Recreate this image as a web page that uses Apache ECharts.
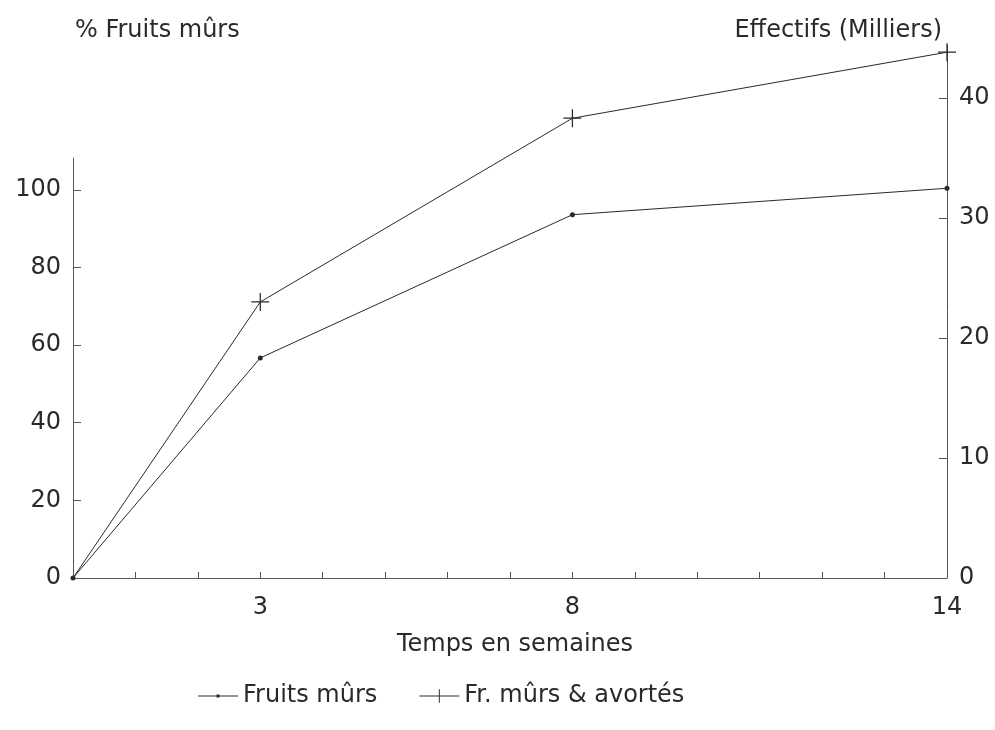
<!DOCTYPE html>
<html>
<head>
<meta charset="utf-8">
<script src="https://cdn.jsdelivr.net/npm/echarts@6/dist/echarts.min.js"></script>
<style>
    html, body { margin: 0; padding: 0; background: #fff; }
    #chart { width: 995px; height: 730px; }
</style>
</head>
<body>
<div id="chart"></div>
<script>
    // semaines
    var weeks = [0, 3, 8, 14];
    // % fruits mûrs (axe gauche)
    var fruitsMurs = [0, 56.7, 93.6, 100.4];
    // effectifs fruits mûrs & avortés, milliers (axe droit)
    var mursAvortes = [0, 23, 38.3, 43.8];
    var xLabels = [3, 8, 14];

    var ink = '#2a2a2a';
    var font = 'DejaVu Sans';
    var plus = 'path://M-0.07,-1H0.07V-0.07H1V0.07H0.07V1H-0.07V0.07H-1V-0.07H-0.07Z';
    // icones de légende (trait + symbole), petits coins pour fixer la boîte
    var iconDot = 'path://M0,0H0.1V0.1H0Z M0,17.9H0.1V18H0Z M0,8.5H40V9.5H0Z M18.5,7.5H21.5V10.5H18.5Z';
    var iconPlus = 'path://M0,0H0.1V0.1H0Z M0,17.9H0.1V18H0Z M0,8.5H42V9.5H0Z M20.5,2H21.5V16H20.5Z';

    function pairs(xs, ys) {
        return xs.map(function (x, i) { return [x, ys[i]]; });
    }

    var xAxisBase = {
        type: 'value',
        min: 0,
        max: 14,
        interval: 1,
        axisLine: { onZero: false, lineStyle: { color: '#555', width: 1 } },
        axisTick: { inside: true, length: 6, lineStyle: { color: '#555' } },
        splitLine: { show: false }
    };

    var titleStyle = { fontSize: 24, fontWeight: 'normal', color: ink, fontFamily: font };

    // pas de croix à l'origine
    var plusData = pairs(weeks, mursAvortes).map(function (p, i) {
        return i === 0 ? { value: p, symbol: 'none' } : p;
    });

    var option = {
        animation: false,
        textStyle: { fontFamily: font },
        title: [
            { text: '% Fruits mûrs', left: 70, top: 14, textStyle: titleStyle },
            { text: 'Effectifs (Milliers)', right: 48, top: 14, textStyle: titleStyle },
            { text: 'Temps en semaines', left: 510, textAlign: 'center', top: 628, textStyle: titleStyle }
        ],
        legend: {
            top: 679,
            left: 193,
            itemWidth: 40,
            itemHeight: 18,
            itemGap: 42,
            textStyle: { fontSize: 24, color: ink, fontFamily: font },
            data: [
                { name: 'Fruits mûrs', icon: iconDot },
                { name: 'Fr. mûrs & avortés', icon: iconPlus }
            ]
        },
        grid: [
            { left: 73, right: 48, top: 158, bottom: 152 },
            { left: 73, right: 48, top: 45, bottom: 152 }
        ],
        xAxis: [
            Object.assign({}, xAxisBase, {
                gridIndex: 0,
                axisLabel: {
                    fontSize: 24, color: ink, margin: 18,
                    formatter: function (v) { return xLabels.indexOf(v) >= 0 ? String(v) : ''; }
                }
            }),
            Object.assign({}, xAxisBase, { gridIndex: 1, show: false })
        ],
        yAxis: [
            {
                gridIndex: 0,
                type: 'value',
                position: 'left',
                min: 0,
                max: 108.2,
                interval: 20,
                axisLine: { show: true, onZero: false, lineStyle: { color: '#555', width: 1 } },
                axisTick: { show: true, inside: true, length: 8, lineStyle: { color: '#555' } },
                axisLabel: { fontSize: 24, color: ink, margin: 12, showMaxLabel: false },
                splitLine: { show: false }
            },
            {
                gridIndex: 1,
                type: 'value',
                position: 'right',
                min: 0,
                max: 44.4,
                interval: 10,
                axisLine: { show: true, onZero: false, lineStyle: { color: '#555', width: 1 } },
                axisTick: { show: true, inside: true, length: 8, lineStyle: { color: '#555' } },
                axisLabel: { fontSize: 24, color: ink, margin: 12, showMaxLabel: false },
                splitLine: { show: false }
            }
        ],
        series: [
            {
                name: 'Fruits mûrs',
                type: 'line',
                xAxisIndex: 0,
                yAxisIndex: 0,
                symbol: 'circle',
                symbolSize: 5,
                itemStyle: { color: ink },
                lineStyle: { color: ink, width: 1 },
                data: pairs(weeks, fruitsMurs)
            },
            {
                name: 'Fr. mûrs & avortés',
                type: 'line',
                xAxisIndex: 1,
                yAxisIndex: 1,
                symbol: plus,
                symbolSize: 18,
                showSymbol: true,
                itemStyle: { color: ink },
                lineStyle: { color: ink, width: 1 },
                data: plusData
            }
        ]
    };

    var myChart = echarts.init(document.getElementById('chart'));
    myChart.setOption(option);
</script>
</body>
</html>
